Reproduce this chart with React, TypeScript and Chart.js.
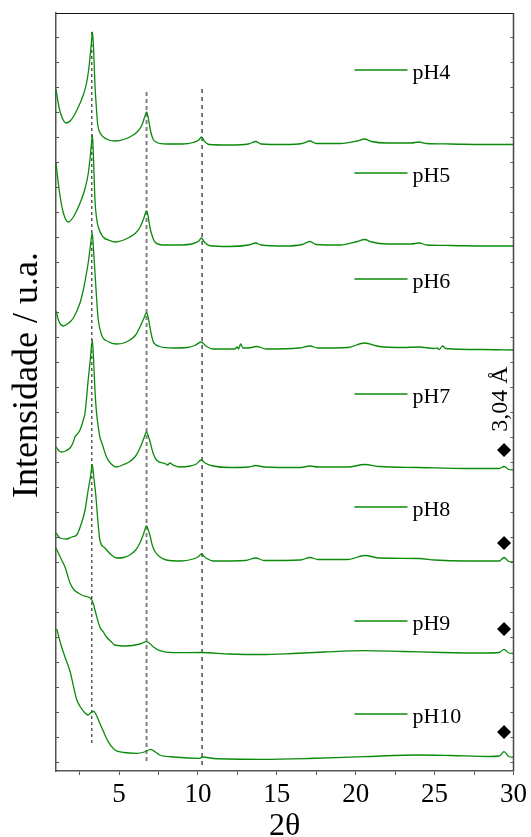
import React, { useEffect, useRef } from "react";
import { Chart, registerables } from "chart.js";

Chart.register(...registerables);

// ---- data (2θ in degrees, intensity in arbitrary units) ----
const seriesNames = ["pH4", "pH5", "pH6", "pH7", "pH8", "pH9", "pH10"];
const seriesOffsets = [627, 525, 422, 302, 210, 118, 13];

const pH4X = [1.0, 1.2, 1.4, 1.63, 1.9, 2.2, 2.5, 2.75, 2.95, 3.1, 3.2, 3.27, 3.31, 3.38, 3.47, 3.57, 3.64, 3.8, 4.0, 4.35, 4.73, 5.3, 5.9, 6.2, 6.45, 6.62, 6.74, 6.85, 6.98, 7.15, 7.4, 8.0, 9.0, 9.7, 10.05, 10.22, 10.4, 10.7, 12.0, 13.2, 13.66, 14.0, 15.5, 16.6, 17.1, 17.5, 19.0, 20.1, 20.56, 21.0, 22.0, 23.5, 24.0, 24.5, 26.0, 28.0, 30.0];
const pH4Y = [55, 36, 26, 21, 23, 30, 40, 50, 62, 78, 94, 106, 112, 96, 59, 34, 20, 11, 7, 4, 3, 4.5, 9, 13, 19, 27, 32, 26, 14, 5, 1.5, 0, 0, 1.5, 4, 7, 3, -0.5, -1, 0, 2.5, 0, -0.5, 0.5, 3, 0.5, 0.5, 3, 5, 2.5, 1, 1, 2, 0.5, 0, -0.5, -0.5];

const pH5X = [1.0, 1.2, 1.45, 1.78, 2.1, 2.6, 2.85, 3.05, 3.18, 3.26, 3.31, 3.38, 3.47, 3.57, 3.68, 3.99, 4.4, 4.73, 5.2, 5.68, 6.05, 6.3, 6.55, 6.74, 6.85, 6.95, 7.1, 7.27, 7.8, 8.7, 9.7, 10.05, 10.22, 10.4, 10.7, 12.0, 13.2, 13.66, 14.0, 15.5, 16.6, 17.1, 17.5, 19.0, 20.1, 20.56, 21.0, 22.0, 23.5, 24.0, 24.5, 26.0, 28.0, 30.0];
const pH5Y = [83, 56, 34, 24, 29, 46, 58, 73, 91, 104, 111, 86, 46, 28, 19, 9, 5.5, 4, 5.5, 9, 13, 18, 27, 35, 29, 19, 10, 4, 1, 1, 2.5, 5, 8, 4, 0.5, -0.5, 1, 3, 1, 0, 1.5, 4.5, 1.5, 1, 4.5, 6.5, 4, 2, 2, 3, 1, 0.5, 0, 0];

const pH6X = [1.0, 1.2, 1.46, 1.8, 2.1, 2.52, 2.73, 2.9, 3.05, 3.18, 3.3, 3.38, 3.5, 3.6, 3.68, 3.89, 4.3, 4.84, 5.3, 5.68, 6.05, 6.32, 6.55, 6.74, 6.85, 6.95, 7.16, 7.58, 8.42, 9.3, 9.8, 10.2, 10.5, 10.96, 12.33, 12.48, 12.57, 12.7, 12.85, 13.2, 13.7, 14.33, 16.4, 17.1, 17.6, 19.5, 20.56, 21.5, 23.0, 24.0, 25.0, 25.15, 25.3, 25.5, 25.7, 28.0, 30.0];
const pH6Y = [38, 27, 23, 26, 31, 46, 59, 73, 87, 103, 116, 99, 69, 44, 29, 14, 7.5, 5, 6, 9, 14, 22, 30, 36, 31, 22, 7.5, 2.5, 1, 1.5, 3.5, 7, 3, 0, 0, 2, 0, 5, 1, 1, 2.5, 0, 1, 3, 1, 1.5, 6, 2.5, 1.5, 2, 0.5, 1, -0.5, 3, 0.5, -0.5, -1];

const pH7X = [1.0, 1.2, 1.36, 1.6, 1.89, 2.1, 2.2, 2.35, 2.52, 2.73, 2.84, 3.04, 3.19, 3.3, 3.38, 3.47, 3.57, 3.7, 3.78, 3.95, 4.2, 4.5, 4.84, 5.3, 5.68, 6.05, 6.32, 6.55, 6.74, 6.85, 6.95, 7.15, 7.37, 7.9, 8.1, 8.2, 8.42, 8.85, 9.5, 9.9, 10.2, 10.5, 10.96, 12.0, 13.2, 13.66, 14.2, 16.5, 17.1, 17.6, 19.5, 20.56, 21.5, 24.0, 27.0, 29.1, 29.4, 29.7, 30.0];
const pH7Y = [22, 18, 17, 18, 21, 27, 32, 35, 39, 49, 56, 89, 112, 129, 110, 79, 56, 40, 32, 24, 12, 5, 2, 4.5, 7.5, 13, 21, 30, 37, 33, 28, 16, 9, 5.5, 4, 6, 4, 2, 3, 5, 9, 5.5, 3, 1.5, 2, 3.5, 2, 1.5, 3, 2, 2, 4.5, 2.5, 1.5, 0.5, 0.5, 2.5, -0.5, -1];

const pH8X = [1.0, 1.25, 1.68, 2.0, 2.31, 2.62, 2.84, 3.04, 3.2, 3.3, 3.4, 3.51, 3.65, 3.78, 4.1, 4.52, 4.84, 5.3, 5.68, 6.05, 6.32, 6.55, 6.74, 6.85, 6.95, 7.1, 7.27, 7.6, 8.0, 8.9, 9.7, 10.0, 10.22, 10.5, 11.0, 13.0, 13.66, 14.2, 16.5, 17.1, 17.6, 19.5, 20.56, 21.5, 24.0, 25.0, 27.0, 29.1, 29.4, 29.7, 30.0];
const pH8Y = [28, 23, 22, 24, 26, 38, 51, 71, 86, 96.5, 83, 68, 41, 21, 13, 6, 3, 3.5, 6, 11, 18, 27, 35, 31, 26, 16, 9.5, 4, 1, 0, 2, 4, 7, 3, 0, 0.5, 3, 0.5, 1, 3.5, 1.5, 1.5, 5.5, 3, 2.5, 1, 0, 0, 3.5, -0.5, -1];

const pH9X = [1.0, 1.36, 1.57, 1.89, 2.15, 2.41, 2.7, 2.94, 3.2, 3.35, 3.47, 3.78, 4.0, 4.2, 4.45, 4.73, 5.47, 6.32, 6.74, 6.95, 7.16, 7.58, 8.42, 10.2, 12.0, 14.0, 16.0, 18.0, 20.5, 23.0, 25.5, 28.0, 29.1, 29.4, 29.7, 30.0];
const pH9Y = [105, 93, 86, 70, 63, 60, 57.5, 56.5, 54.5, 50, 43, 26, 21, 16, 12, 8, 7, 9, 11.3, 9.5, 6.3, 2.3, 0.3, 0.5, -1, -1.5, -0.5, 1, 2.3, 1.5, 0.5, 0, 0.5, 3.7, 0, -0.5];

const pH10X = [1.05, 1.3, 1.57, 1.9, 2.3, 2.55, 2.84, 3.04, 3.25, 3.4, 3.55, 3.78, 4.05, 4.31, 4.73, 5.3, 6.1, 6.6, 7.0, 7.3, 7.58, 8.5, 10.1, 10.3, 11.0, 14.0, 17.0, 20.5, 24.0, 26.0, 28.5, 29.1, 29.4, 29.7, 30.0];
const pH10Y = [129, 114, 101, 86, 59, 51, 45, 43, 46, 46.5, 43, 34.7, 25, 16.3, 8, 5.5, 4.7, 6, 8.7, 6, 3, 1, -0.3, 1, -0.5, -1.3, -0.5, 1.3, 3, 2.5, 1.5, 2, 6.3, 1.5, 0.7];

const seriesX = [pH4X, pH5X, pH6X, pH7X, pH8X, pH9X, pH10X];
const seriesY = [pH4Y, pH5Y, pH6Y, pH7Y, pH8Y, pH9Y, pH10Y];

// reference (dashed) lines
const refLineX = [3.27, 6.74, 10.26];
const refLineTop = [739, 679, 682];
const refLineBottom = [27, 9, 6];
const refLineColors = ["#222222", "#808080", "#111111"];
const refLineWidths = [1.1, 2, 1.1];
const refLineDashes = [[3, 3], [4, 3], [4, 4]];

// ♦ markers (3,04 Å reflection)
const diamondX = [29.4, 29.4, 29.4, 29.4];
const diamondY = [321, 228, 142, 39];

// legend anchors (data units)
const legendLineX = [19.92, 23.28];
const legendY = [701, 598, 492, 377, 264, 150, 57];

const xTicks = [2.5, 5, 7.5, 10, 12.5, 15, 17.5, 20, 22.5, 25, 27.5, 30];
const yMinorStep = 25;

const GREEN = "#0a8a0a";
const SERIF = "'Liberation Serif', 'Times New Roman', serif";

const decorPlugin = {
  id: "decor",
  afterDatasetsDraw(chart: any) {
    const { ctx, chartArea } = chart;
    const xs = chart.scales.x;
    const ys = chart.scales.y;
    ctx.save();
    // top and right frame
    ctx.strokeStyle = "#111";
    ctx.lineWidth = 1.2;
    ctx.beginPath();
    ctx.moveTo(chartArea.left, chartArea.top + 0.5);
    ctx.lineTo(chartArea.right, chartArea.top + 0.5);
    ctx.stroke();
    ctx.strokeStyle = "#444";
    ctx.lineWidth = 1.5;
    ctx.beginPath();
    ctx.moveTo(chartArea.right, chartArea.top);
    ctx.lineTo(chartArea.right, chartArea.bottom);
    ctx.stroke();
    // inward minor ticks on left and right axes
    ctx.strokeStyle = "#555";
    ctx.lineWidth = 1;
    for (let v = 9; v < ys.max; v += yMinorStep) {
      const py = Math.round(ys.getPixelForValue(v)) + 0.5;
      ctx.beginPath();
      ctx.moveTo(chartArea.left, py);
      ctx.lineTo(chartArea.left + 3, py);
      ctx.moveTo(chartArea.right, py);
      ctx.lineTo(chartArea.right - 3, py);
      ctx.stroke();
    }
    // in-plot legend
    const lx0 = xs.getPixelForValue(legendLineX[0]);
    const lx1 = xs.getPixelForValue(legendLineX[1]);
    ctx.font = `22px ${SERIF}`;
    ctx.textAlign = "left";
    ctx.textBaseline = "alphabetic";
    seriesNames.forEach((name, i) => {
      const py = ys.getPixelForValue(legendY[i]);
      ctx.strokeStyle = GREEN;
      ctx.lineWidth = 1.3;
      ctx.beginPath();
      ctx.moveTo(lx0, py);
      ctx.lineTo(lx1, py);
      ctx.stroke();
      ctx.fillStyle = "#000";
      ctx.fillText(name, lx1 + 5, py + 8.5);
    });
    // 3,04 Å annotation
    ctx.save();
    ctx.translate(xs.getPixelForValue(29.4) + 3, ys.getPixelForValue(372));
    ctx.rotate(-Math.PI / 2);
    ctx.font = `24px ${SERIF}`;
    ctx.textAlign = "center";
    ctx.textBaseline = "alphabetic";
    ctx.fillStyle = "#000";
    ctx.fillText("3,04 Å", 0, 0);
    ctx.restore();
    // axis titles
    ctx.fillStyle = "#000";
    ctx.save();
    ctx.translate(37, (chartArea.top + chartArea.bottom) / 2 - 17);
    ctx.rotate(-Math.PI / 2);
    ctx.font = `36px ${SERIF}`;
    ctx.textAlign = "center";
    ctx.textBaseline = "alphabetic";
    ctx.fillText("Intensidade / u.a.", 0, 0);
    ctx.restore();
    ctx.font = `32px ${SERIF}`;
    ctx.textAlign = "center";
    ctx.textBaseline = "alphabetic";
    ctx.fillText("2θ", (chartArea.left + chartArea.right) / 2, 835);
    ctx.restore();
  },
};

export default function App() {
  const canvasRef = useRef<HTMLCanvasElement | null>(null);

  useEffect(() => {
    document.body.style.margin = "0";
    const canvas = canvasRef.current;
    if (!canvas) return;

    const curveSets = seriesNames.map((name, i) => ({
      type: "line" as const,
      label: name,
      data: seriesX[i].map((x, j) => ({ x, y: seriesOffsets[i] + seriesY[i][j] })),
      borderColor: GREEN,
      borderWidth: 1.3,
      pointRadius: 0,
      tension: 0.3,
      cubicInterpolationMode: "monotone" as const,
      fill: false,
      order: 1,
    }));

    const refSets = refLineX.map((x, i) => ({
      type: "line" as const,
      label: `ref${i}`,
      data: [
        { x, y: refLineTop[i] },
        { x, y: refLineBottom[i] },
      ],
      borderColor: refLineColors[i],
      borderWidth: refLineWidths[i],
      borderDash: refLineDashes[i],
      pointRadius: 0,
      fill: false,
      order: 2,
    }));

    const diamondSet = {
      type: "scatter" as const,
      label: "3,04 Å",
      data: diamondX.map((x, i) => ({ x, y: diamondY[i] })),
      pointStyle: "rectRot",
      pointRadius: 7,
      backgroundColor: "#000",
      borderColor: "#000",
      borderWidth: 0,
      showLine: false,
      order: 0,
    };

    const chart = new Chart(canvas, {
      type: "line",
      data: { datasets: [...curveSets, ...refSets, diamondSet] as any },
      options: {
        responsive: false,
        animation: false,
        devicePixelRatio: 1,
        layout: { padding: { left: 0, top: 13, right: 17, bottom: 0 } },
        plugins: { legend: { display: false }, tooltip: { enabled: false } },
        scales: {
          x: {
            type: "linear",
            min: 1,
            max: 30,
            afterBuildTicks: (scale: any) => {
              scale.ticks = xTicks.map((v) => ({ value: v }));
            },
            afterFit: (scale: any) => {
              scale.height = 66;
            },
            ticks: {
              autoSkip: false,
              maxRotation: 0,
              padding: 4,
              color: "#000",
              font: { family: SERIF, size: 27 },
              callback: (v: any) => (Number(v) % 5 === 0 ? String(v) : ""),
            },
            grid: { display: true, drawOnChartArea: false, drawTicks: true, tickLength: 4, color: "#555" },
            border: { display: true, color: "#555", width: 1.5 },
          },
          y: {
            type: "linear",
            min: 0,
            max: 758,
            afterFit: (scale: any) => {
              scale.width = 56;
            },
            ticks: { display: false },
            grid: { display: false },
            border: { display: true, color: "#555", width: 1.5 },
          },
        },
      },
      plugins: [decorPlugin],
    });

    return () => chart.destroy();
  }, []);

  return (
    <div style={{ width: 531, height: 837, position: "relative" }}>
      <canvas ref={canvasRef} width={531} height={837} style={{ display: "block" }} />
    </div>
  );
}
